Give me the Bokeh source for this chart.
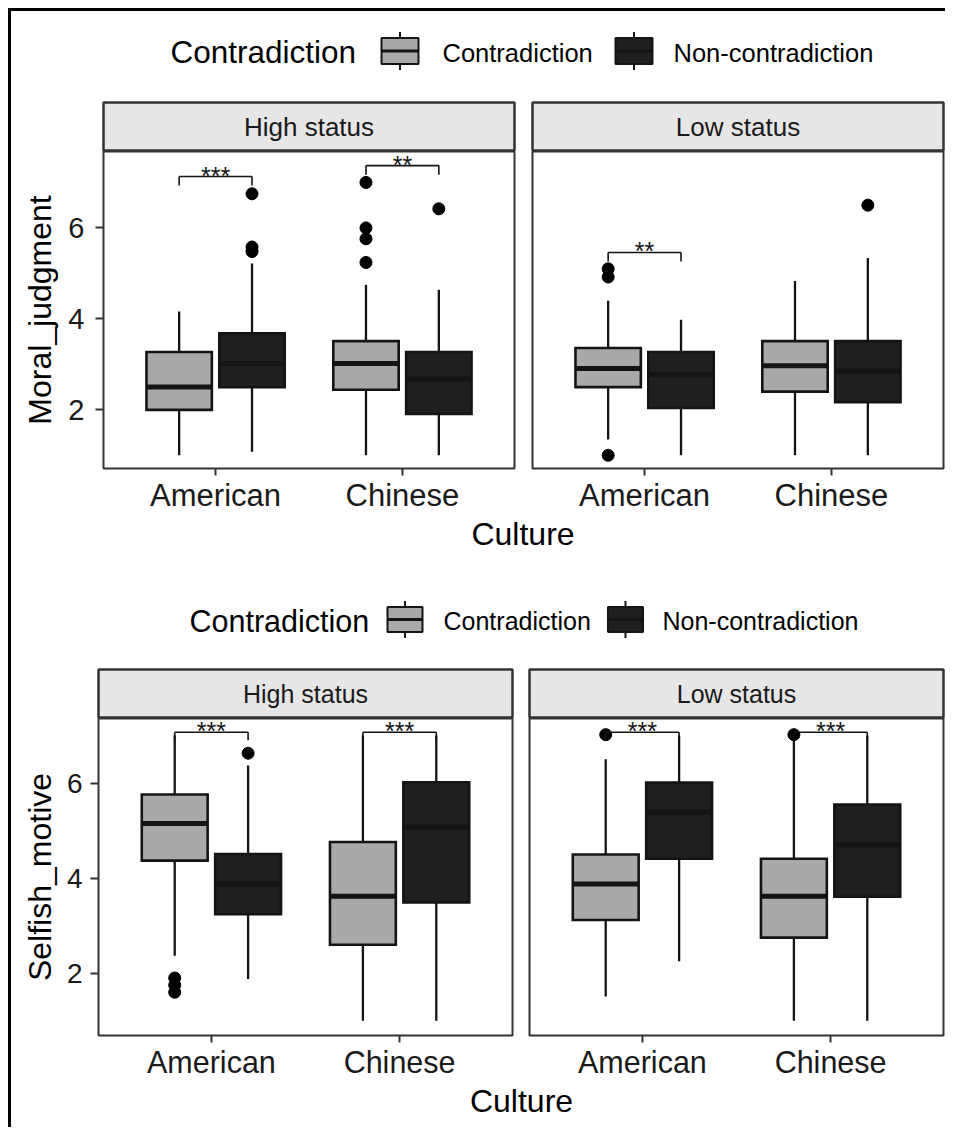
from bokeh.plotting import figure
from bokeh.models import Range1d, FactorRange, ColumnDataSource, FixedTicker
from bokeh.transform import dodge
from bokeh.layouts import column, row
from bokeh.embed import file_html
from bokeh.resources import INLINE
from bokeh.core.properties import value

FONT = "Liberation Sans"

# ---------------- data ----------------
CULTURES = ["American", "Chinese"]
GROUPS = ["Contradiction", "Non-contradiction"]
STATUSES = ["High status", "Low status"]
LEGEND_TITLE = "Contradiction"
X_TITLE = "Culture"
Y_TITLE_TOP = "Moral_judgment"
Y_TITLE_BOTTOM = "Selfish_motive"
Y_TICKS = [2, 4, 6]

BOX_STATUS = ["High status"] * 4 + ["Low status"] * 4
BOX_CULTURE = ["American", "American", "Chinese", "Chinese"] * 2
BOX_GROUP = ["Contradiction", "Non-contradiction"] * 4

MORAL_LOWER = [1.00, 1.08, 1.00, 1.00, 1.35, 1.00, 1.00, 1.00]
MORAL_Q1 = [2.00, 2.50, 2.44, 1.91, 2.50, 2.04, 2.40, 2.17]
MORAL_MEDIAN = [2.50, 3.02, 3.02, 2.68, 2.91, 2.77, 2.97, 2.85]
MORAL_Q3 = [3.27, 3.68, 3.51, 3.27, 3.36, 3.27, 3.51, 3.51]
MORAL_UPPER = [4.16, 5.22, 4.75, 4.64, 4.40, 3.98, 4.83, 5.34]

MORAL_OUT_STATUS = ["High status"] * 8 + ["Low status"] * 4
MORAL_OUT_CULTURE = ["American"] * 3 + ["Chinese"] * 5 + ["American"] * 3 + ["Chinese"]
MORAL_OUT_GROUP = (["Non-contradiction"] * 3 + ["Contradiction"] * 4 + ["Non-contradiction"]
                   + ["Contradiction"] * 3 + ["Non-contradiction"])
MORAL_OUT_VALUE = [6.75, 5.58, 5.48, 7.00, 6.00, 5.76, 5.24, 6.42, 5.10, 4.92, 1.00, 6.50]

MORAL_SIG_STATUS = ["High status", "High status", "Low status"]
MORAL_SIG_CULTURE = ["American", "Chinese", "American"]
MORAL_SIG_Y = [7.13, 7.37, 5.46]
MORAL_SIG_LABEL = ["***", "**", "**"]

SELF_LOWER = [2.37, 1.88, 1.00, 1.00, 1.51, 2.25, 1.00, 1.00]
SELF_Q1 = [4.37, 3.24, 2.60, 3.49, 3.12, 4.41, 2.75, 3.61]
SELF_MEDIAN = [5.15, 3.88, 3.62, 5.07, 3.88, 5.39, 3.62, 4.70]
SELF_Q3 = [5.76, 4.51, 4.76, 6.02, 4.50, 6.01, 4.41, 5.55]
SELF_UPPER = [7.00, 6.37, 7.00, 7.00, 6.50, 7.00, 6.90, 7.00]

SELF_OUT_STATUS = ["High status"] * 4 + ["Low status"] * 2
SELF_OUT_CULTURE = ["American"] * 4 + ["American", "Chinese"]
SELF_OUT_GROUP = ["Contradiction"] * 3 + ["Non-contradiction"] + ["Contradiction"] * 2
SELF_OUT_VALUE = [1.90, 1.75, 1.60, 6.63, 7.02, 7.02]

SELF_SIG_STATUS = ["High status", "High status", "Low status", "Low status"]
SELF_SIG_CULTURE = ["American", "Chinese", "American", "Chinese"]
SELF_SIG_Y = [7.07] * 4
SELF_SIG_LABEL = ["***"] * 4

# ---------------- style ----------------
FILLS = ["#a9a9a9", "#1f1f1f"]
LINE = "#141414"
BORDER = "#333333"
TEXT = "#1a1a1a"
STRIP_FILL = "#e6e6e6"
OFFSETS = [-0.195, 0.195]
BOX_W = 0.35

MORAL = dict(status=BOX_STATUS, culture=BOX_CULTURE, group=BOX_GROUP, lower=MORAL_LOWER,
             q1=MORAL_Q1, median=MORAL_MEDIAN, q3=MORAL_Q3, upper=MORAL_UPPER,
             o_status=MORAL_OUT_STATUS, o_culture=MORAL_OUT_CULTURE, o_group=MORAL_OUT_GROUP,
             o_value=MORAL_OUT_VALUE, s_status=MORAL_SIG_STATUS, s_culture=MORAL_SIG_CULTURE,
             s_y=MORAL_SIG_Y, s_label=MORAL_SIG_LABEL)
SELF = dict(status=BOX_STATUS, culture=BOX_CULTURE, group=BOX_GROUP, lower=SELF_LOWER,
            q1=SELF_Q1, median=SELF_MEDIAN, q3=SELF_Q3, upper=SELF_UPPER,
            o_status=SELF_OUT_STATUS, o_culture=SELF_OUT_CULTURE, o_group=SELF_OUT_GROUP,
            o_value=SELF_OUT_VALUE, s_status=SELF_SIG_STATUS, s_culture=SELF_SIG_CULTURE,
            s_y=SELF_SIG_Y, s_label=SELF_SIG_LABEL)

GEOM_TOP = dict(header_h=90, strip_h=50, frame_h=317, bottom=47, footer_h=41,
                left=92, gap=16, right=2, frame_w=411, y_range=(0.71, 7.68),
                ytick_standoff=11, ylabel_standoff=7, tip=0.2,
                title_fs="31.5px", label_fs="25.5px", strip_fs="26px", xtick_fs="31px",
                ytick_fs="29px", axis_title_fs="32px", star_fs="25px",
                leg_title_x=159, leg_title_y=40, leg_label_y=41, leg_cy=39.5,
                key_cx=[388.5, 622.5], label_x=[431, 662], key_w=37, key_h=26,
                strip_y=0.49, footer_x=511.5, footer_y=18, y_title=Y_TITLE_TOP)
GEOM_BOTTOM = dict(header_h=111, strip_h=51, frame_h=317, bottom=47, footer_h=45,
                   left=87, gap=15, right=2, frame_w=414, y_range=(0.69, 7.36),
                   ytick_standoff=8, ylabel_standoff=6, tip=0.17,
                   title_fs="30.5px", label_fs="25px", strip_fs="25px", xtick_fs="30.5px",
                   ytick_fs="28px", axis_title_fs="32px", star_fs="25px",
                   leg_title_x=178, leg_title_y=64.5, leg_label_y=64.5, leg_cy=63,
                   key_cx=[393.5, 614], label_x=[432, 651], key_w=35, key_h=25,
                   strip_y=0.49, footer_x=510, footer_y=18, y_title=Y_TITLE_BOTTOM)

TOTAL_W = 934


def style_axis(ax, fs, standoff, tick_out):
    ax.major_label_text_font = FONT
    ax.major_label_text_font_size = fs
    ax.major_label_text_color = TEXT
    ax.major_label_standoff = standoff
    ax.major_tick_out = tick_out
    ax.major_tick_in = 0
    ax.minor_tick_out = 0
    ax.minor_tick_in = 0
    ax.minor_tick_line_color = None
    ax.major_tick_line_color = BORDER
    ax.major_tick_line_width = 2
    ax.axis_line_color = None


def blank_fig(w, h):
    f = figure(width=w, height=h, x_range=Range1d(0, w), y_range=Range1d(h, 0),
               output_backend="svg", toolbar_location=None,
               x_axis_location=None, y_axis_location=None,
               min_border_left=0, min_border_right=0, min_border_top=0, min_border_bottom=0)
    f.outline_line_color = None
    f.grid.visible = False
    f.background_fill_color = "white"
    f.border_fill_color = "white"
    return f


def header(g):
    f = blank_fig(TOTAL_W, g["header_h"])
    f.text(x=[g["leg_title_x"]], y=[g["leg_title_y"]], text=[LEGEND_TITLE],
           text_font=value(FONT), text_font_size=g["title_fs"], text_color="black",
           text_baseline="alphabetic", text_align="left")
    cy = g["leg_cy"]
    h = g["key_h"]
    ext = 6
    for cx, fill in zip(g["key_cx"], FILLS):
        f.segment(x0=[cx], y0=[cy - h / 2 - ext], x1=[cx], y1=[cy + h / 2 + ext],
                  line_color=LINE, line_width=2)
        f.rect(x=[cx], y=[cy], width=g["key_w"], height=h, fill_color=fill,
               line_color=LINE, line_width=2)
        f.segment(x0=[cx - g["key_w"] / 2], y0=[cy], x1=[cx + g["key_w"] / 2], y1=[cy],
                  line_color=LINE, line_width=3)
    f.text(x=g["label_x"], y=[g["leg_label_y"]] * 2, text=GROUPS,
           text_font=value(FONT), text_font_size=g["label_fs"], text_color="black",
           text_baseline="alphabetic", text_align="left")
    return f


def footer(g):
    f = blank_fig(TOTAL_W, g["footer_h"])
    f.text(x=[g["footer_x"]], y=[g["footer_y"]], text=[X_TITLE],
           text_font=value(FONT), text_font_size=g["axis_title_fs"], text_color="black",
           text_baseline="alphabetic", text_align="center")
    return f


def strip(status, g, is_left):
    left = g["left"] if is_left else g["gap"]
    right = 2 if is_left else g["right"]
    f = figure(width=left + g["frame_w"] + right, height=g["strip_h"],
               x_range=Range1d(0, 1), y_range=Range1d(0, 1),
               output_backend="svg", toolbar_location=None,
               x_axis_location=None, y_axis_location=None,
               min_border_left=left, min_border_right=right,
               min_border_top=g["strip_h"] - 49 if g["strip_h"] > 49 else 0,
               min_border_bottom=0)
    f.grid.visible = False
    f.background_fill_color = STRIP_FILL
    f.border_fill_color = "white"
    f.outline_line_color = BORDER
    f.outline_line_width = 2.5
    f.text(x=[0.5], y=[g["strip_y"]], text=[status], text_font=value(FONT),
           text_font_size=g["strip_fs"], text_color=TEXT,
           text_baseline="alphabetic", text_align="center")
    return f


def panel(status, d, g, is_left):
    left = g["left"] if is_left else g["gap"]
    right = 2 if is_left else g["right"]
    p = figure(width=left + g["frame_w"] + right, height=g["frame_h"] + g["bottom"],
               x_range=FactorRange(factors=CULTURES, range_padding=0.1,
                                   range_padding_units="absolute"),
               y_range=Range1d(*g["y_range"]),
               output_backend="svg", toolbar_location=None,
               min_border_left=left, min_border_right=right,
               min_border_top=0, min_border_bottom=g["bottom"],
               y_axis_location="left" if is_left else None)
    p.grid.visible = False
    p.background_fill_color = "white"
    p.border_fill_color = "white"
    p.outline_line_color = BORDER
    p.outline_line_width = 2

    style_axis(p.xaxis[0], g["xtick_fs"], 2, 7)
    if is_left:
        ax = p.yaxis[0]
        ax.ticker = FixedTicker(ticks=Y_TICKS)
        style_axis(ax, g["ytick_fs"], g["ytick_standoff"], 8)
        ax.axis_label = g["y_title"]
        ax.axis_label_text_font = FONT
        ax.axis_label_text_font_size = g["axis_title_fs"]
        ax.axis_label_text_font_style = "normal"
        ax.axis_label_text_color = "black"
        ax.axis_label_standoff = g["ylabel_standoff"]

    for gi, grp in enumerate(GROUPS):
        off = OFFSETS[gi]
        idx = [i for i in range(len(d["status"]))
               if d["status"][i] == status and d["group"][i] == grp]
        src = ColumnDataSource(dict(
            culture=[d["culture"][i] for i in idx],
            lower=[d["lower"][i] for i in idx],
            q1=[d["q1"][i] for i in idx],
            median=[d["median"][i] for i in idx],
            q3=[d["q3"][i] for i in idx],
            upper=[d["upper"][i] for i in idx],
        ))
        xd = dodge("culture", off, range=p.x_range)
        p.segment(x0=xd, y0="lower", x1=xd, y1="upper", source=src,
                  line_color=LINE, line_width=2.3)
        p.vbar(x=xd, width=BOX_W, bottom="q1", top="q3", source=src,
               fill_color=FILLS[gi], line_color=LINE, line_width=2.6, line_join="miter")
        p.rect(x=xd, y="median", width=BOX_W, height=5, height_units="screen", source=src,
               fill_color=LINE, line_color=None)
        oidx = [i for i in range(len(d["o_status"]))
                if d["o_status"][i] == status and d["o_group"][i] == grp]
        osrc = ColumnDataSource(dict(
            culture=[d["o_culture"][i] for i in oidx],
            value=[d["o_value"][i] for i in oidx],
        ))
        p.scatter(x=dodge("culture", off, range=p.x_range), y="value", source=osrc,
                  size=12, fill_color="black", line_color="black")

    sidx = [i for i in range(len(d["s_status"])) if d["s_status"][i] == status]
    ssrc = ColumnDataSource(dict(
        culture=[d["s_culture"][i] for i in sidx],
        y=[d["s_y"][i] for i in sidx],
        tip=[d["s_y"][i] - g["tip"] for i in sidx],
        label=[d["s_label"][i] for i in sidx],
    ))
    xl = dodge("culture", OFFSETS[0], range=p.x_range)
    xr = dodge("culture", OFFSETS[1], range=p.x_range)
    p.segment(x0=xl, y0="y", x1=xr, y1="y", source=ssrc, line_color=LINE, line_width=1.6)
    p.segment(x0=xl, y0="y", x1=xl, y1="tip", source=ssrc, line_color=LINE, line_width=1.6)
    p.segment(x0=xr, y0="y", x1=xr, y1="tip", source=ssrc, line_color=LINE, line_width=1.6)
    p.text(x="culture", y="y", text="label", source=ssrc, y_offset=-1,
           text_font=value(FONT), text_font_size=g["star_fs"], text_color=LINE,
           text_align="center", text_baseline="alphabetic")
    return p


def block(d, g):
    cols = []
    for si, status in enumerate(STATUSES):
        is_left = si == 0
        cols.append(column(strip(status, g, is_left), panel(status, d, g, is_left), spacing=0))
    return [header(g), row(*cols, spacing=0), footer(g)]


root = column(*block(MORAL, GEOM_TOP), *block(SELF, GEOM_BOTTOM), spacing=0,
              margin=(8, 0, 0, 8),
              styles={"border-top": "3px solid #000000", "border-left": "3px solid #000000"})

html = file_html(root, INLINE, title="Moral judgment and selfish motive")
with open("out.html", "w") as fh:
    fh.write(html)
